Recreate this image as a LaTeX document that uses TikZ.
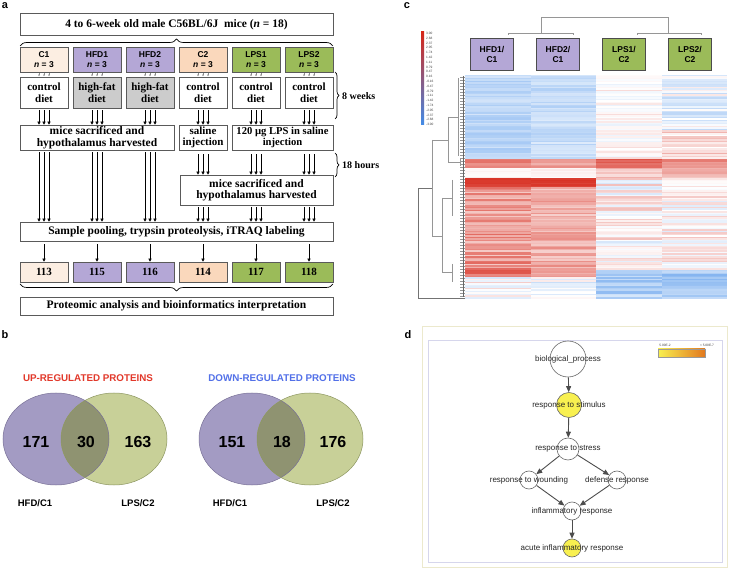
\documentclass[tikz,border=0pt]{standalone}
\usepackage{fontspec}
\setmainfont{Liberation Serif}
\setsansfont{Liberation Sans}
\usetikzlibrary{arrows.meta, positioning, calc, decorations.pathreplacing}
\definecolor{boxgray}{RGB}{90,90,90}
\definecolor{cone}{RGB}{252,238,226}
\definecolor{ctwo}{RGB}{250,216,188}
\definecolor{hfdpurple}{RGB}{180,167,214}
\definecolor{lpsgreen}{RGB}{155,187,89}
\definecolor{fatgray}{RGB}{204,204,204}
\definecolor{uptitle}{RGB}{226,56,42}
\definecolor{downtitle}{RGB}{82,112,232}
\definecolor{vennpurple}{RGB}{163,155,195}
\definecolor{venngreen}{RGB}{200,208,152}
\definecolor{vennboth}{RGB}{143,147,113}
\definecolor{vennpedge}{RGB}{120,112,150}
\definecolor{venngedge}{RGB}{140,150,96}
\definecolor{hmred}{RGB}{214,38,24}
\definecolor{hmblue}{RGB}{66,140,232}
\definecolor{dendro}{RGB}{150,150,150}
\definecolor{goedge}{RGB}{105,105,105}
\definecolor{goyellow}{RGB}{248,240,80}
\definecolor{goorange}{RGB}{226,120,30}
\definecolor{gocream}{RGB}{236,233,205}
\definecolor{golilac}{RGB}{214,214,236}

\newcommand{\hmrows}[5]{%
  \foreach \k in {1,...,#3}{%
    \pgfmathsetmacro{\hmy}{#2+1.5*(\k-1)}%
    \pgfmathtruncatemacro{\hmv}{(#4)+rnd*((#5)-(#4))}%
    \ifnum\hmv<0
      \pgfmathtruncatemacro{\hmw}{-\hmv}%
      \fill[hmblue!\hmw!white] (#1,\hmy) rectangle ++(65.5,1.6);
    \else
      \fill[hmred!\hmv!white] (#1,\hmy) rectangle ++(65.5,1.6);
    \fi}}

\begin{document}
\begin{tikzpicture}[x=1pt, y=-1pt,
    panel/.style={font=\sffamily\bfseries\fontsize{11}{11}\selectfont, inner sep=0},
    wbox/.style={draw=boxgray, line width=0.6pt, inner sep=0, align=center, font=\bfseries\fontsize{11.5}{11.5}\selectfont},
    grp/.style={draw=boxgray, line width=0.6pt, inner sep=0, minimum width=48, minimum height=25, align=center, font=\sffamily\bfseries\fontsize{8.5}{9.5}\selectfont},
    diet/.style={wbox, minimum width=48, minimum height=31, font=\bfseries\fontsize{11}{11.5}\selectfont},
    tag/.style={wbox, minimum width=48, minimum height=20, font=\bfseries\fontsize{11}{11}\selectfont},
    side/.style={anchor=west, inner sep=0, font=\bfseries\fontsize{10}{10}\selectfont},
    arr/.style={-{Triangle[length=3pt,width=3pt]}, line width=0.5pt, shorten <=2pt},
    tinyarr/.style={-{Triangle[length=1.5pt,width=1.6pt]}, line width=0.3pt, black!45},
    brc/.style={decorate, decoration={brace, amplitude=#1}, line width=0.7pt},
    vnum/.style={font=\sffamily\bfseries\fontsize{16}{16}\selectfont},
    vlab/.style={font=\sffamily\bfseries\fontsize{9.5}{10}\selectfont},
    vtitle/.style={font=\sffamily\bfseries\fontsize{9.8}{10}\selectfont},
    hmhead/.style={draw=black!70, line width=0.7pt, inner sep=0, minimum width=43, minimum height=32, align=center, font=\sffamily\bfseries\fontsize{8.5}{10}\selectfont},
    dgline/.style={draw=dendro, line width=0.4pt},
    gonode/.style={circle, draw=goedge, line width=0.6pt, fill=white, inner sep=0, minimum size=#1},
    golab/.style={font=\sffamily\fontsize{8}{9}\selectfont, text=black!85},
    goarr/.style={-{Triangle[length=6pt,width=5pt]}, line width=0.9pt, black!70},
    tiny/.style={inner sep=0, font=\sffamily\fontsize{3.2}{3.4}\selectfont, text=black!75}
]
\useasboundingbox (0,0) rectangle (729,569);
\fill[white] (0,0) rectangle (729,569);

\node[panel] (la) at (5,6) {a};
\node[panel] (lb) at (5,335) {b};
\node[panel] (lc) at (407,6) {c};
\node[panel] (ld) at (408,335) {d};

\node[wbox, minimum width=313, minimum height=22] (mice) at (176.5,24.5) {4 to 6-week old male C56BL/6J\ \ mice (\textit{n} = 18)};
\draw[brc=7] (20,46) -- (333,46);

\foreach \n/\x/\lab/\col in {c1/44/C1/cone, hfd1/97/HFD1/hfdpurple, hfd2/150/HFD2/hfdpurple, c2/203/C2/ctwo, lps1/256/LPS1/lpsgreen, lps2/309/LPS2/lpsgreen}
  \node[grp, fill=\col] (g\n) at (\x,59.5) {\lab\\\textit{n} = 3};
\foreach \n/\x/\lab/\col in {c1/44/control/white, hfd1/97/high-fat/fatgray, hfd2/150/high-fat/fatgray, c2/203/control/white, lps1/256/control/white, lps2/309/control/white}
  \node[diet, fill=\col] (d\n) at (\x,92.5) {\lab\\diet};
\foreach \n/\x/\lab/\col in {c1/44/113/cone, hfd1/97/115/hfdpurple, hfd2/150/116/hfdpurple, c2/203/114/ctwo, lps1/256/117/lpsgreen, lps2/309/118/lpsgreen}
  \node[tag, fill=\col] (t\n) at (\x,272) {\lab};

\node[wbox, minimum width=154, minimum height=25] (saca) at (97,137.5) {mice sacrificed and\\hypothalamus harvested};
\node[wbox, minimum width=48, minimum height=25, font=\bfseries\fontsize{11}{11.5}\selectfont] (saline) at (203,137.5) {saline\\injection};
\node[wbox, minimum width=101, minimum height=25, font=\bfseries\fontsize{10.6}{11.5}\selectfont] (lpsinj) at (282.5,137.5) {120 µg LPS in saline\\injection};
\node[wbox, minimum width=153, minimum height=30] (sacb) at (256.5,190) {mice sacrificed and\\hypothalamus harvested};
\node[wbox, minimum width=313, minimum height=19] (pool) at (176.5,231.5) {Sample pooling, trypsin proteolysis, iTRAQ labeling};
\node[wbox, minimum width=313, minimum height=18] (omics) at (176.5,306) {Proteomic analysis and bioinformatics interpretation};
\draw[brc=7, decoration={mirror}] (20,284) -- (333,284);

\foreach \n/\m in {c1/saca, hfd1/saca, hfd2/saca, c2/saline, lps1/lpsinj, lps2/lpsinj}{
  \foreach \dx in {-5,0,5}{
    \draw[tinyarr] ($(g\n.south)+(\dx,1)$) -- ($(d\n.north)+(\dx,-0.5)$);
    \draw[arr] ($(d\n.south)+(\dx,0)$) -- ($(d\n.south |- \m.north)+(\dx,0)$);
  }
  \draw[arr, shorten <=3pt] (t\n.north |- pool.south) -- (t\n.north);
}
\foreach \n in {c1,hfd1,hfd2}
  \foreach \dx in {-5,0,5}
    \draw[arr] ($(d\n.south |- saca.south)+(\dx,0)$) -- ($(d\n.south |- pool.north)+(\dx,0)$);
\foreach \n/\m in {c2/saline, lps1/lpsinj, lps2/lpsinj}
  \foreach \dx in {-5,0,5}{
    \draw[arr, shorten <=4pt] ($(d\n.south |- \m.south)+(\dx,0)$) -- ($(d\n.south |- sacb.north)+(\dx,0)$);
    \draw[arr] ($(d\n.south |- sacb.south)+(\dx,0)$) -- ($(d\n.south |- pool.north)+(\dx,0)$);
  }

\draw[brc=4] (335,72) -- (335,119);
\node[side] (weeks) at (342,96) {8 weeks};
\draw[brc=4] (335,153) -- (335,177);
\node[side] (hours) at (342,165) {18 hours};

\node[vtitle, text=uptitle] (up) at (88,378) {UP-REGULATED PROTEINS};
\node[vtitle, text=downtitle] (down) at (282,378) {DOWN-REGULATED PROTEINS};
\foreach \cx in {56,252}{
  \fill[vennpurple] (\cx,439) ellipse [x radius=53, y radius=46];
  \fill[venngreen] (\cx+58,439) ellipse [x radius=53, y radius=46];
  \begin{scope}
    \clip (\cx,439) ellipse [x radius=53, y radius=46];
    \fill[vennboth] (\cx+58,439) ellipse [x radius=53, y radius=46];
  \end{scope}
  \draw[vennpedge, line width=0.5pt] (\cx,439) ellipse [x radius=53, y radius=46];
  \draw[venngedge, line width=0.5pt] (\cx+58,439) ellipse [x radius=53, y radius=46];
}
\node[vnum] (uphfd) at (36,442) {171};
\node[vnum] (upboth) at (86,442) {30};
\node[vnum] (uplps) at (138,442) {163};
\node[vnum] (dnhfd) at (232,442) {151};
\node[vnum] (dnboth) at (282,442) {18};
\node[vnum] (dnlps) at (333,442) {176};
\node[vlab] (uphl) at (35,503) {HFD/C1};
\node[vlab] (upll) at (138,503) {LPS/C2};
\node[vlab] (dnhl) at (230,503) {HFD/C1};
\node[vlab] (dnll) at (333,503) {LPS/C2};

\pgfmathsetseed{11}
\hmrows{465}{75}{56}{-48}{-22}
\hmrows{465}{159}{6}{45}{70}
\hmrows{465}{168}{7}{0}{12}
\hmrows{465}{178.5}{6}{85}{98}
\hmrows{465}{187.5}{55}{25}{70}
\hmrows{465}{270}{5}{55}{80}
\hmrows{465}{277.5}{14}{-25}{30}
\hmrows{530.5}{75}{56}{-42}{-18}
\hmrows{530.5}{159}{6}{35}{55}
\hmrows{530.5}{168}{7}{0}{10}
\hmrows{530.5}{178.5}{6}{85}{95}
\hmrows{530.5}{187.5}{55}{22}{55}
\hmrows{530.5}{270}{5}{35}{55}
\hmrows{530.5}{277.5}{14}{-30}{15}
\hmrows{596}{75}{56}{-12}{18}
\hmrows{596}{159}{6}{65}{85}
\hmrows{596}{168}{7}{15}{40}
\hmrows{596}{178.5}{61}{-22}{30}
\hmrows{596}{270}{19}{-60}{-22}
\hmrows{661.5}{75}{37}{-35}{12}
\hmrows{661.5}{130.5}{19}{0}{38}
\hmrows{661.5}{159}{6}{45}{75}
\hmrows{661.5}{168}{7}{20}{45}
\hmrows{661.5}{178.5}{61}{-18}{28}
\hmrows{661.5}{270}{19}{-65}{-30}

\node[hmhead, fill=hfdpurple] (hhfd1) at (492,54) {HFD1/\\C1};
\node[hmhead, fill=hfdpurple] (hhfd2) at (558,54) {HFD2/\\C1};
\node[hmhead, fill=lpsgreen] (hlps1) at (624,54) {LPS1/\\C2};
\node[hmhead, fill=lpsgreen] (hlps2) at (690,54) {LPS2/\\C2};
\draw[dgline] (541,33) -- (541,17) -- (668,17) -- (668,33);
\draw[dgline] (508,35) -- (508,33) -- (573,33) -- (573,35);
\draw[dgline] (637,35) -- (637,33) -- (701,33) -- (701,35);

\draw[dgline, draw=black!55] (465,298) -- (418,298) -- (418,188) -- (432,188);
\draw[dgline] (432,140) -- (432,236);
\draw[dgline] (432,140) -- (448,140) (448,117) -- (448,162);
\draw[dgline] (448,117) -- (458,117) (458,78) -- (458,156);
\draw[dgline] (448,162) -- (460,162) (460,158) -- (460,166);
\draw[dgline] (432,236) -- (442,236) (442,198) -- (442,272);
\draw[dgline] (442,198) -- (452,198) (452,180) -- (452,216);
\draw[dgline] (442,272) -- (452,272) (452,264) -- (452,282);
\foreach \yy in {77,80,...,296}
  \draw[dgline] (460,\yy) -- (465,\yy);
\draw[black!60, line width=0.5pt] (463.5,76) -- (463.5,297);

\shade[top color=hmred, middle color=white, bottom color=hmblue] (421,32) rectangle (424,125);
\foreach \v [count=\i from 0] in {3.00,2.68,2.37,2.05,1.74,1.42,1.11,0.79,0.47,0.16,-0.16,-0.47,-0.79,-1.11,-1.42,-1.74,-2.05,-2.37,-2.68,-3.00}
  \node[tiny, anchor=west] at (426,33.5+4.8*\i) {\v};

\draw[gocream, line width=1pt] (422,327) rectangle (727,567);
\draw[golilac, line width=0.8pt] (428,340) rectangle (722,562);
\shade[left color=goyellow, right color=goorange] (658,349) rectangle (705,357);
\draw[black!40, line width=0.3pt] (658,349) rectangle (705,357);
\node[tiny] (pmax) at (665,345) {5.00E-2};
\node[tiny] (pmin) at (707,345) {< 5.00E-7};

\node[gonode=36] (bio) at (568,359) {};
\node[gonode=25, fill=goyellow] (stim) at (569,405) {};
\node[gonode=22] (stress) at (568,449) {};
\node[gonode=18] (wound) at (529,480) {};
\node[gonode=18] (defense) at (617,480) {};
\node[gonode=18] (inflam) at (572,511) {};
\node[gonode=18, fill=goyellow] (acute) at (572,548) {};
\draw[goarr] (bio) -- (stim);
\draw[goarr] (stim) -- (stress);
\draw[goarr] (stress) -- (wound);
\draw[goarr] (stress) -- (defense);
\draw[goarr] (wound) -- (inflam);
\draw[goarr] (defense) -- (inflam);
\draw[goarr] (inflam) -- (acute);
\node[golab] at (bio) {biological\_process};
\node[golab] at (stim) {response to stimulus};
\node[golab] at (stress) {response to stress};
\node[golab] at (wound) {response to wounding};
\node[golab] at (defense) {defense response};
\node[golab] at (inflam) {inflammatory response};
\node[golab] at (acute) {acute inflammatory response};
\end{tikzpicture}
\end{document}
